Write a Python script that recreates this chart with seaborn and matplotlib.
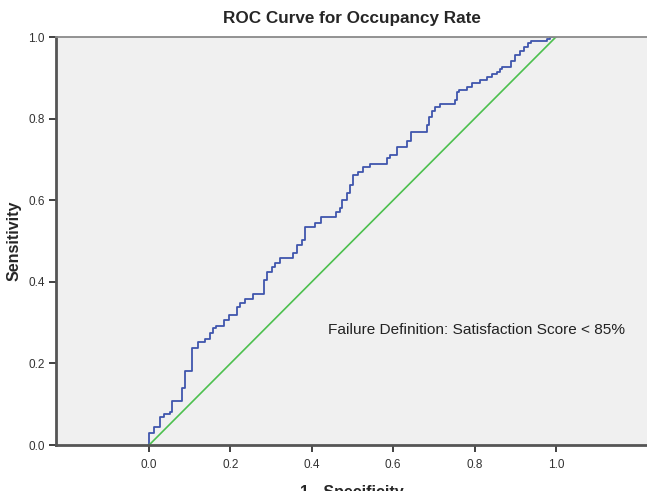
import matplotlib
matplotlib.use("Agg")
import matplotlib.pyplot as plt
import seaborn as sns
import numpy as np

fpr = [0.000, 0.000, 0.011, 0.027, 0.037, 0.052, 0.056, 0.080, 0.088, 0.105,
       0.121, 0.138, 0.150, 0.158, 0.165, 0.183, 0.197, 0.215, 0.224, 0.236,
       0.256, 0.283, 0.289, 0.301, 0.310, 0.322, 0.353, 0.363, 0.377, 0.383,
       0.408, 0.422, 0.459, 0.468, 0.473, 0.486, 0.494, 0.502, 0.514, 0.527,
       0.543, 0.584, 0.592, 0.609, 0.635, 0.644, 0.684, 0.689, 0.695, 0.703,
       0.715, 0.752, 0.756, 0.762, 0.781, 0.793, 0.813, 0.830, 0.842, 0.854,
       0.862, 0.867, 0.889, 0.899, 0.912, 0.921, 0.932, 0.939, 0.977, 0.985,
       1.000]
tpr = [0.000, 0.029, 0.045, 0.068, 0.076, 0.082, 0.109, 0.139, 0.182, 0.237,
       0.253, 0.261, 0.274, 0.286, 0.292, 0.306, 0.319, 0.339, 0.349, 0.358,
       0.370, 0.404, 0.425, 0.437, 0.447, 0.458, 0.470, 0.490, 0.502, 0.535,
       0.543, 0.560, 0.572, 0.580, 0.600, 0.617, 0.637, 0.662, 0.670, 0.682,
       0.689, 0.703, 0.711, 0.730, 0.744, 0.768, 0.784, 0.805, 0.819, 0.829,
       0.836, 0.846, 0.866, 0.870, 0.878, 0.888, 0.895, 0.903, 0.909, 0.915,
       0.921, 0.926, 0.940, 0.956, 0.966, 0.976, 0.985, 0.989, 0.994, 1.000,
       1.000]
ref_x = [0.0, 1.0]
ref_y = [0.0, 1.0]
ticks = [0.0, 0.2, 0.4, 0.6, 0.8, 1.0]
title = "ROC Curve for Occupancy Rate"
xlabel = "1 - Specificity"
ylabel = "Sensitivity"
note = "Failure Definition: Satisfaction Score < 85%"

sns.set_style("white")
plt.rcParams["font.family"] = ["Liberation Sans", "DejaVu Sans"]

fig = plt.figure(figsize=(6.47, 4.91), dpi=100)
ax = fig.add_axes([56/647, 1-445/491, 1-56/647, (445-37)/491])
ax.set_facecolor("#f0f0f0")

# step ROC curve
xs, ys = [fpr[0]], [tpr[0]]
for i in range(1, len(fpr)):
    xs.append(fpr[i]); ys.append(tpr[i-1])
    xs.append(fpr[i]); ys.append(tpr[i])
sns.lineplot(x=xs, y=ys, sort=False, estimator=None, color="#3f55ad", lw=1.3, ax=ax)
sns.lineplot(x=ref_x, y=ref_y, sort=False, estimator=None, color="#4cc04e", lw=1.2, ax=ax)

ax.set_xlim(-0.229, 1.224)
ax.set_ylim(0, 1.0)
ax.set_xticks(ticks)
ax.set_yticks(ticks)
ax.set_xticklabels([f"{t:.1f}" for t in ticks])
ax.set_yticklabels([f"{t:.1f}" for t in ticks])
ax.tick_params(axis="both", labelsize=8.5, colors="#333333", length=5, width=1.3,
               direction="out", left=True, bottom=True, pad=3)
ax.tick_params(axis="x", pad=5)
for s in ["left", "bottom"]:
    ax.spines[s].set_color("#555555")
    ax.spines[s].set_linewidth(2)
ax.spines["top"].set_color("#8a8a8a")
ax.spines["top"].set_linewidth(1.3)
ax.spines["right"].set_visible(False)

ax.set_title(title, fontsize=12.3, fontweight="bold", pad=10)
ax.set_xlabel(xlabel, fontsize=11.5, fontweight="bold", labelpad=10)
ax.set_ylabel(ylabel, fontsize=11.5, fontweight="bold", labelpad=5)
ax.text(0.44, 0.281, note, fontsize=11.1, color="#222222", va="center", ha="left")

fig.savefig("out.png", dpi=100)
